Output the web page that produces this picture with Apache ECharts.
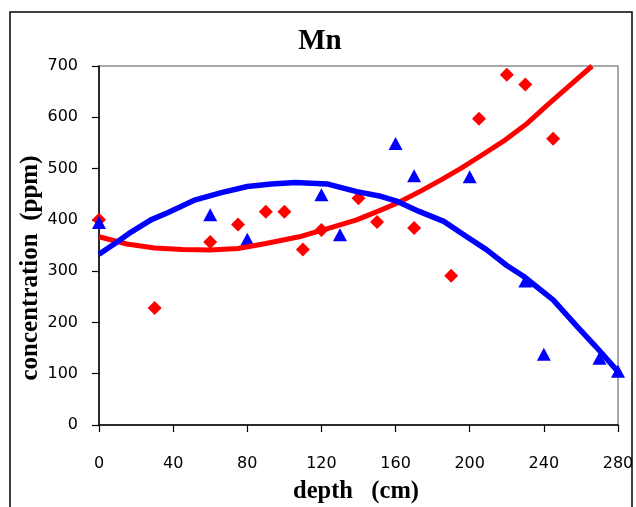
<!DOCTYPE html>
<html><head><meta charset="utf-8">
<script src="https://cdn.jsdelivr.net/npm/echarts@6/dist/echarts.min.js"></script>
<style>html,body{margin:0;padding:0;background:#fff}#c{width:636px;height:507px}</style>
</head><body><div id="c"></div>
<script>
// depth (cm), concentration (ppm)
const redDepth = [0, 30, 60, 75, 90, 100, 110, 120, 140, 150, 170, 190, 205, 220, 230, 245];
const redConc  = [400, 228, 357, 391, 416, 416, 342, 380, 442, 396, 384, 291, 597, 683, 664, 558];
const blueDepth = [0, 60, 80, 120, 130, 160, 170, 200, 230, 240, 270, 280];
const blueConc  = [395, 410, 362, 449, 371, 549, 486, 484, 281, 138, 130, 105];
// trend lines
const redTrendDepth = [0, 15, 30, 45, 60, 75, 90, 108, 126, 139, 152, 161, 174, 185, 195, 206, 218, 231, 242, 252, 266];
const redTrendConc  = [367, 353, 345, 342, 341, 344, 354, 367, 386, 400, 419, 433, 457, 479, 500, 525, 553, 588, 624, 656, 700];
const blueTrendDepth = [0, 9, 16, 28, 37, 52, 66, 80, 93, 106, 123, 139, 152, 161, 173, 186, 198, 209, 220, 229, 245, 258, 268, 280];
const blueTrendConc  = [333, 355, 373, 400, 414, 439, 453, 465, 470, 473, 470, 455, 446, 436, 416, 397, 368, 342, 311, 290, 244, 192, 153, 104];

const titleText = 'Mn';
const xTitle = 'depth   (cm)';
const yTitle = 'concentration  (ppm)';

const zip = (a, b) => a.map((v, i) => [v, b[i]]);
const chart = echarts.init(document.getElementById('c'), null, {renderer: 'canvas'});
const serif = '"Liberation Serif", "Times New Roman", serif';
const sans = '"DejaVu Sans", Verdana, sans-serif';
chart.setOption({
  backgroundColor: '#fff',
  animation: false,
  grid: {left: 99, top: 66, right: 18, bottom: 82, show: true, borderColor: '#8c8c8c', borderWidth: 1.5, outerBoundsMode: 'none', containLabel: false},
  xAxis: {
    type: 'value', min: 0, max: 280, interval: 40,
    axisLine: {show: true, onZero: false, lineStyle: {color: '#000', width: 1.5}},
    axisTick: {show: true, length: 7, lineStyle: {color: '#000', width: 1.2}},
    axisLabel: {margin: 31, color: '#000', fontFamily: sans, fontSize: 16},
    splitLine: {show: false}
  },
  yAxis: {
    type: 'value', min: 0, max: 700, interval: 100,
    axisLine: {show: true, onZero: false, lineStyle: {color: '#000', width: 1.5}},
    axisTick: {show: true, length: 7, lineStyle: {color: '#000', width: 1.2}},
    axisLabel: {margin: 21, color: '#000', fontFamily: sans, fontSize: 16},
    splitLine: {show: false}
  },
  graphic: [
    {type: 'rect', silent: true, z: -10, shape: {x: 10, y: 12, width: 622, height: 520}, style: {fill: 'none', stroke: '#000', lineWidth: 1.5}},
    {type: 'text', x: 320, y: 42, style: {text: titleText, font: 'bold 29px ' + serif, fill: '#000', textAlign: 'center', textVerticalAlign: 'middle'}},
    {type: 'text', x: 356, y: 492, style: {text: xTitle, font: 'bold 24.5px ' + serif, fill: '#000', textAlign: 'center', textVerticalAlign: 'middle'}},
    {type: 'text', x: 31, y: 268, rotation: Math.PI / 2, style: {text: yTitle, font: 'bold 25px ' + serif, fill: '#000', textAlign: 'center', textVerticalAlign: 'middle'}}
  ],
  series: [
    {type: 'scatter', data: zip(redDepth, redConc), symbol: 'diamond', symbolSize: 14, itemStyle: {color: '#ff0000', opacity: 1}, z: 3},
    {type: 'scatter', data: zip(blueDepth, blueConc), symbol: 'triangle', symbolSize: [14, 13], itemStyle: {color: '#0000ff', opacity: 1}, z: 3},
    {type: 'line', data: zip(redTrendDepth, redTrendConc), showSymbol: false, symbol: 'none', lineStyle: {color: '#ff0000', width: 5}, z: 4, clip: true},
    {type: 'line', data: zip(blueTrendDepth, blueTrendConc), showSymbol: false, symbol: 'none', lineStyle: {color: '#0000ff', width: 5.5}, z: 4, clip: true}
  ]
});
</script>
</body></html>
